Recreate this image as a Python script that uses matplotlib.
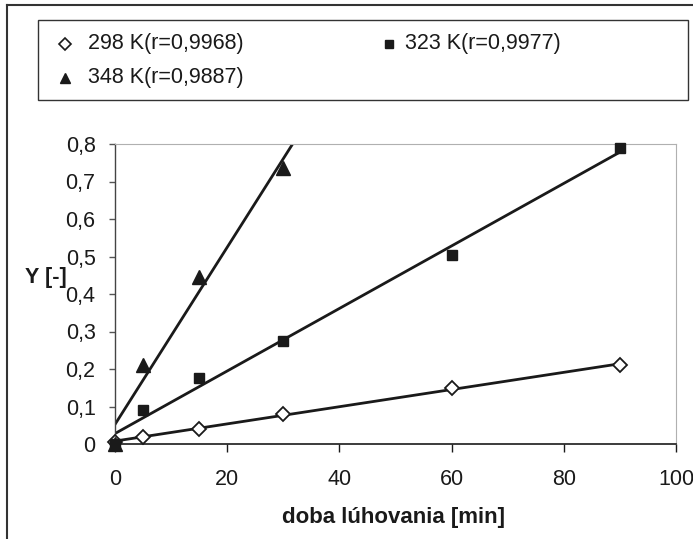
import matplotlib
matplotlib.use("Agg")
import matplotlib.pyplot as plt
import numpy as np
from matplotlib.lines import Line2D
from matplotlib.patches import Rectangle

plt.rcParams['font.family'] = ['Liberation Sans', 'DejaVu Sans']

# doba luhovania [min]
t_298 = [0, 5, 15, 30, 60, 90]
y_298 = [0.005, 0.02, 0.04, 0.08, 0.15, 0.21]
t_323 = [0, 5, 15, 30, 60, 90]
y_323 = [0.0, 0.09, 0.175, 0.275, 0.505, 0.79]
t_348 = [0, 5, 15, 30]
y_348 = [0.0, 0.21, 0.445, 0.735]

labels = ['298 K(r=0,9968)', '323 K(r=0,9977)', '348 K(r=0,9887)']
xticks = [0, 20, 40, 60, 80, 100]
yticks = [0, 0.1, 0.2, 0.3, 0.4, 0.5, 0.6, 0.7, 0.8]

W, H = 693, 539
fig = plt.figure(figsize=(W / 100, H / 100), dpi=100)
ax = fig.add_axes([115 / W, 1 - 444 / H, (676 - 115) / W, (444 - 144) / H])

ink = '#1a1a1a'
fs = 15.5

# linear trendlines
def trend(t, y, xend):
    k, q = np.polyfit(t, y, 1)
    xs = np.array([0, xend])
    return xs, k * xs + q

for t, y, xe in [(t_298, y_298, 90), (t_323, y_323, 90), (t_348, y_348, 40)]:
    xs, ys = trend(t, y, xe)
    ax.plot(xs, ys, color=ink, lw=2, zorder=2)

ax.plot(t_298, y_298, linestyle='none', marker='D', ms=7.5, mfc='white',
        mec=ink, mew=1.3, zorder=4, clip_on=False)
ax.plot(t_323, y_323, linestyle='none', marker='s', ms=7.5, color=ink, zorder=4,
        clip_on=False)
ax.plot(t_348, y_348, linestyle='none', marker='^', ms=10, color=ink, zorder=4,
        clip_on=False)

ax.set_xlim(0, 100)
ax.set_ylim(0, 0.8)
ax.set_xticks(xticks)
ax.set_xticklabels([str(v) for v in xticks])
ax.set_yticks(yticks)
ax.set_yticklabels([('%g' % v).replace('.', ',') for v in yticks])
ax.tick_params(axis='x', direction='out', length=6, width=1, color=ink,
               labelsize=fs, pad=12, labelcolor=ink)
ax.tick_params(axis='y', direction='out', length=4, width=1, color='#555555',
               labelsize=fs, pad=10, labelcolor=ink)

for s in ['top', 'right']:
    ax.spines[s].set_color('#b0b0b0')
    ax.spines[s].set_linewidth(0.8)
ax.spines['left'].set_color('#444444')
ax.spines['left'].set_linewidth(1)
ax.spines['bottom'].set_color(ink)
ax.spines['bottom'].set_linewidth(1.2)

fig.text(394 / W, 1 - 517 / H, 'doba lúhovania [min]', ha='center', va='center',
         fontsize=16, fontweight='bold', color=ink)
fig.text(46 / W, 1 - 277 / H, 'Y [-]', ha='center', va='center',
         fontsize=fs, fontweight='bold', color=ink)

# legend box, Excel-style row order
fig.add_artist(Rectangle((38 / W, 1 - 100 / H), 650 / W, 80 / H, fill=False,
                         edgecolor='#333333', lw=1, transform=fig.transFigure))
entries = [
    (labels[0], dict(marker='D', ms=6, mfc='white', mec=ink, mew=1.2), 65, 88, 44),
    (labels[1], dict(marker='s', ms=6, color=ink), 389, 405, 44),
    (labels[2], dict(marker='^', ms=7.5, color=ink), 65, 88, 78),
]
for lab, mk, mx, tx, yy in entries:
    fig.add_artist(Line2D([mx / W], [1 - yy / H], linestyle='none',
                          transform=fig.transFigure, **mk))
    fig.text(tx / W, 1 - yy / H, lab, ha='left', va='center', fontsize=fs,
             color=ink)

# outer chart frame
fig.add_artist(Line2D([7 / W, 7 / W], [0, 1 - 5 / H], color='#333333', lw=1.5,
                      transform=fig.transFigure))
fig.add_artist(Line2D([7 / W, 1], [1 - 5 / H, 1 - 5 / H], color='#333333', lw=1.5,
                      transform=fig.transFigure))

fig.savefig('out.png', dpi=100)
